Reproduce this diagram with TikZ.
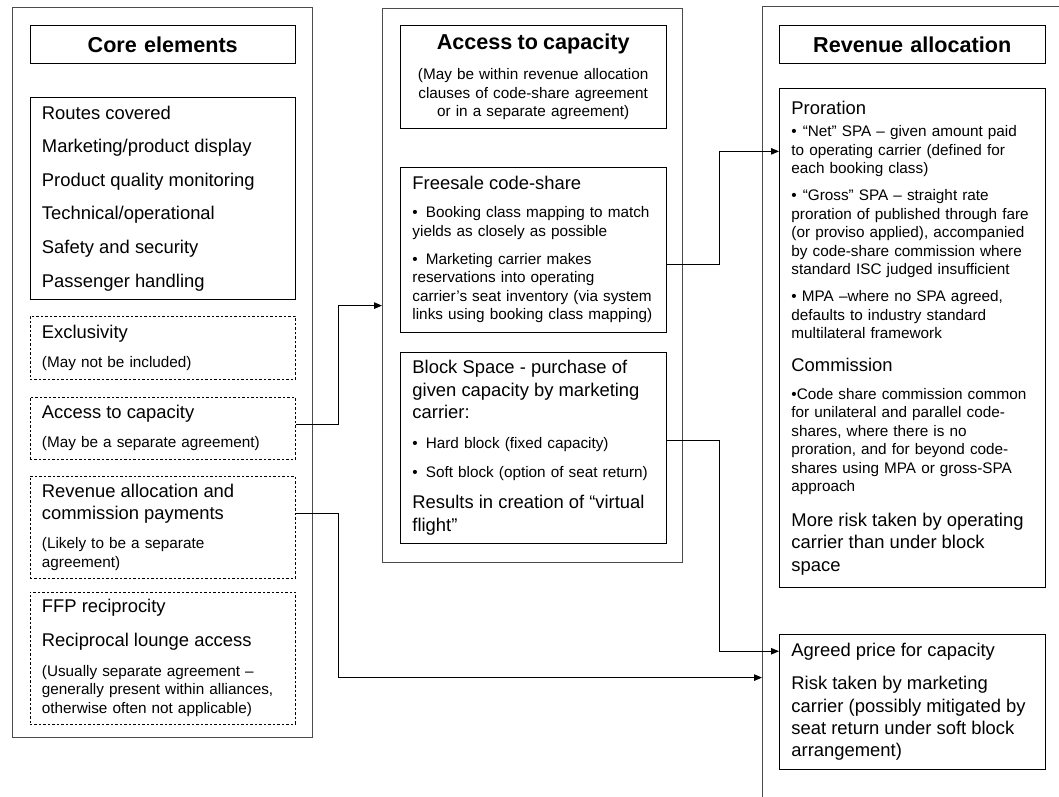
\documentclass[tikz,border=0pt]{standalone}
\usepackage{fontspec}
\setmainfont{Liberation Sans}
\usetikzlibrary{arrows.meta, positioning}

\newcommand{\bigtxt}{\fontsize{18.4pt}{22.3pt}\selectfont}
\newcommand{\medtxt}{\fontsize{15.3pt}{18.5pt}\selectfont}
\newcommand{\headtxt}{\fontsize{21.6pt}{26pt}\selectfont\bfseries}
\newcommand{\itemgap}[1][10.5pt]{\par\vspace{#1}}

\begin{document}
\begin{tikzpicture}[x=1pt, y=-1pt,
        colbox/.style={rectangle, draw=black!70, line width=1.2pt, inner sep=0pt, anchor=north west},
        box/.style={rectangle, draw, line width=0.9pt, minimum width=265.5pt, text width=241.5pt, inner xsep=12pt, inner ysep=0pt, align=left, font=\medtxt},
        dashbox/.style={box, dash pattern=on 2.5pt off 2pt},
        headbox/.style={box, align=center, font=\headtxt, minimum height=38pt},
        arrow/.style={-{Triangle[length=8pt, width=6.5pt]}, line width=1pt}
    ]
        \useasboundingbox (0,0) rectangle (1059,796);
        \clip (0,0) rectangle (1059,796);

        % Columns
        \node[colbox, minimum width=300pt, minimum height=730pt] (corecol) at (12,7) {};
        \node[colbox, minimum width=300pt, minimum height=554pt] (acccol) at (382,8) {};
        \node[colbox, minimum width=338pt, minimum height=824pt] (revcol) at (762,6) {};

        % Core elements
        \node[headbox, anchor=north west] (corehead) at (29.5,25) {Core elements};
        \node[box, minimum height=202pt, below=33pt of corehead] (coreitems) {\bigtxt Routes covered\itemgap[11.3pt]Marketing/product display\itemgap[11.3pt]Product quality monitoring\itemgap[11.3pt]Technical/operational\itemgap[11.3pt]Safety and security\itemgap[11.3pt]Passenger handling\par};
        \node[dashbox, minimum height=63pt, below=16pt of coreitems] (exclbox) {{\bigtxt Exclusivity\par}\itemgap(May not be included)};
        \node[dashbox, minimum height=62pt, below=17pt of exclbox] (accbox) {{\bigtxt Access to capacity\par}\itemgap(May be a separate agreement)};
        \node[dashbox, minimum height=102pt, below=16pt of accbox] (revbox) {{\bigtxt Revenue allocation and\\commission payments\par}\itemgap(Likely to be a separate\\agreement)};
        \node[dashbox, minimum height=132pt, below=13pt of revbox] (ffpbox) {{\bigtxt FFP reciprocity\itemgap[11pt]Reciprocal lounge access\par}\itemgap[11.5pt](Usually separate agreement –\\generally present within alliances,\\otherwise often not applicable)};

        % Access to capacity
        \node[box, align=center, minimum height=103pt, anchor=north west] (acchead) at (400,25) {{\headtxt Access to capacity\par}\itemgap[11.5pt](May be within revenue allocation\\clauses of code-share agreement\\or in a separate agreement)};
        \node[box, minimum height=165pt, below=38pt of acchead] (freesale) {{\bigtxt Freesale code-share\par}\itemgap[9.5pt]•\hspace{8pt}Booking class mapping to match\\yields as closely as possible\itemgap[9.5pt]•\hspace{8pt}Marketing carrier makes\\reservations into operating\\carrier's seat inventory (via system\\links using booking class mapping)};
        \node[box, minimum height=191pt, below=19pt of freesale] (blockbox) {{\bigtxt Block Space - purchase of\\given capacity by marketing\\carrier:\par}\itemgap[11.5pt]•\hspace{8pt}Hard block (fixed capacity)\itemgap•\hspace{8pt}Soft block (option of seat return)\itemgap[9pt]{\bigtxt Results in creation of “virtual\\flight”\par}};

        % Revenue allocation
        \node[headbox, anchor=north west] (revhead) at (779,25) {Revenue allocation};
        \node[box, minimum height=499pt, below=24pt of revhead] (proration) {{\bigtxt Proration\par}\itemgap[4pt]•\hspace{6pt}“Net” SPA – given amount paid\\to operating carrier (defined for\\each booking class)\itemgap[8.5pt]•\hspace{6pt}“Gross” SPA – straight rate\\proration of published through fare\\(or proviso applied), accompanied\\by code-share commission where\\standard ISC judged insufficient\itemgap[8.5pt]• MPA –where no SPA agreed,\\defaults to industry standard\\multilateral framework\itemgap{\bigtxt Commission\par}\itemgap[9.5pt]•Code share commission common\\for unilateral and parallel code-\\shares, where there is no\\proration, and for beyond code-\\shares using MPA or gross-SPA\\approach\itemgap[12.5pt]{\bigtxt More risk taken by operating\\carrier than under block\\space\par}};
        \node[box, minimum height=135pt, below=46pt of proration] (agreed) {\bigtxt Agreed price for capacity\itemgap[11pt]Risk taken by marketing\\carrier (possibly mitigated by\\seat return under soft block\\arrangement)\par};

        % Arrows
        \draw[arrow] ([yshift=4pt]accbox.east) -- ++(43,0) |- ([yshift=-20pt]acccol.west);
        \draw[arrow] ([yshift=14pt]revbox.east) -- ++(43,0) |- ([yshift=-259pt]revcol.west);
        \draw[arrow] ([yshift=-14.5pt]freesale.east) -- ++(53,0) |- ([yshift=186.5pt]proration.west);
        \draw[arrow] ([yshift=7.5pt]blockbox.east) -- ++(53,0) |- ([yshift=50.5pt]agreed.west);
    \end{tikzpicture}
\end{document}
